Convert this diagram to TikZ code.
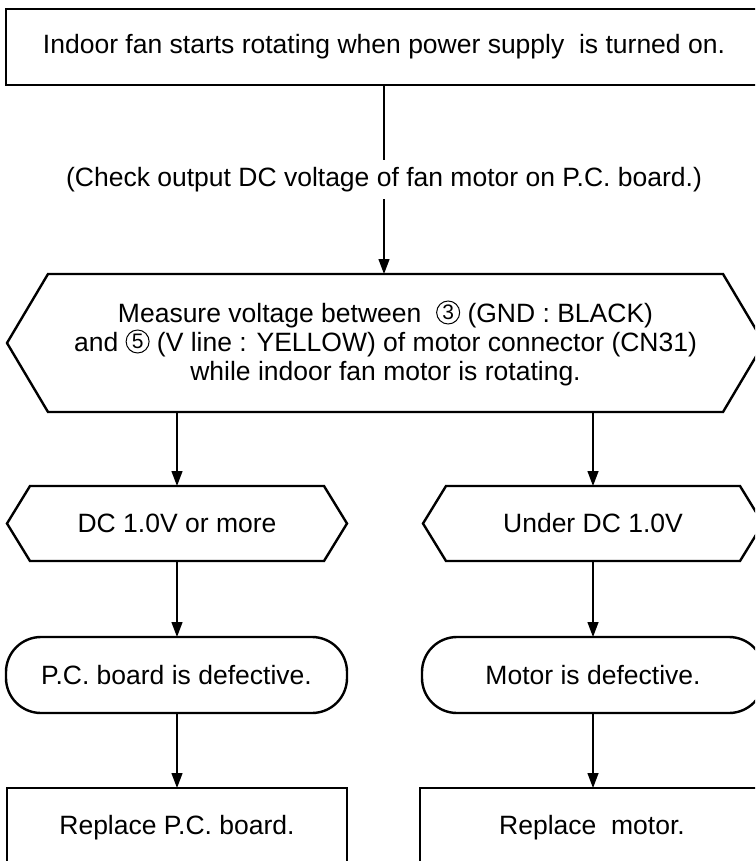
\documentclass[tikz,border=0pt]{standalone}
\usepackage{fontspec}
\setmainfont{Liberation Sans}
\usetikzlibrary{arrows.meta}
\newcommand\hexoutline[2]{\draw[border] ([xshift=#2]#1.north west) -- ([xshift=-#2]#1.north east) -- (#1.east) -- ([xshift=-#2]#1.south east) -- ([xshift=#2]#1.south west) -- (#1.west) -- cycle;}
\newcommand\circd[2]{\tikz[baseline={([yshift=2pt]#2.south)}]\node[circle, draw, line width=1pt, minimum size=23pt, inner sep=0pt, font=\fontsize{21}{21}\selectfont] (#2) {#1};}
\begin{document}
\begin{tikzpicture}[x=1pt,y=-1pt,
  every node/.style={font=\fontsize{26.5}{29}\selectfont, inner sep=0pt, outer sep=0pt, align=center},
  border/.style={line width=2.4pt, line join=miter},
  conn/.style={line width=1.3pt, -{Triangle[length=15pt,width=11pt]}},
  boxnode/.style={draw, border},
  roundnode/.style={draw, border, rounded corners=35pt}]
\useasboundingbox (0,0) rectangle (755,861);
\clip (0,0) rectangle (755,861);

\node[boxnode, minimum width=756, minimum height=76] (top) at (384,47)
  {Indoor fan starts rotating when power supply~ is turned on.};

\node[minimum width=757, minimum height=138] (hex) at (385.5,343)
  {Measure voltage between~ \circd{3}{cthree} (GND : BLACK)\\
   and \circd{5}{cfive} (V line : YELLOW) of motor connector (CN31)\\
   while indoor fan motor is rotating.};
\hexoutline{hex}{41}

\node[minimum width=340, minimum height=75] (lv) at (177,523.5) {DC 1.0V or more};
\hexoutline{lv}{23}
\node[minimum width=340, minimum height=75] (rv) at (593,523.5) {Under DC 1.0V};
\hexoutline{rv}{23}

\node[roundnode, minimum width=341, minimum height=76] (lpc) at (176.5,675) {P.C. board is defective.};
\node[roundnode, minimum width=342, minimum height=76] (rm) at (593,675) {Motor is defective.};

\node[boxnode, minimum width=340, minimum height=80] (lrep) at (177,828) {Replace P.C. board.};
\node[boxnode, minimum width=344, minimum height=80] (rrep) at (592,828) {Replace~ motor.};

\draw[conn] (top.south) -- node[fill=white, inner ysep=7pt, inner xsep=3pt] (chk)
  {(Check output DC voltage of fan motor on P.C. board.)} (top.south |- hex.north);

\draw[conn] (lv.north |- hex.south) -- (lv.north);
\draw[conn] (rv.north |- hex.south) -- (rv.north);
\draw[conn] (lv.south) -- (lv.south |- lpc.north);
\draw[conn] (rv.south) -- (rv.south |- rm.north);
\draw[conn] (lv.south |- lpc.south) -- (lv.south |- lrep.north);
\draw[conn] (rv.south |- rm.south) -- (rv.south |- rrep.north);
\end{tikzpicture}
\end{document}
